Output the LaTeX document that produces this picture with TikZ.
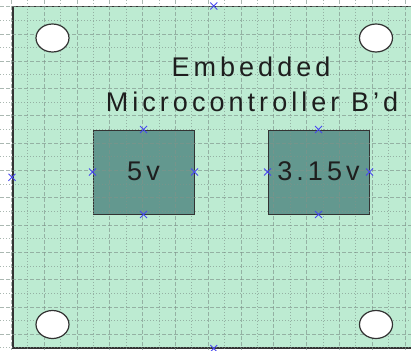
\documentclass[tikz,border=0pt]{standalone}
\usepackage{fontspec}
\setmainfont{Liberation Sans}[LetterSpace=15]
\usetikzlibrary{positioning,shapes.geometric,shapes.misc}
\definecolor{boardmint}{HTML}{BDEBD2}
\definecolor{chipteal}{HTML}{63988F}
\definecolor{edge}{HTML}{333333}
\definecolor{ink}{HTML}{1E1E1E}
\definecolor{gridgray}{HTML}{7F938A}
\definecolor{handleblue}{HTML}{4848F0}

\begin{document}
\begin{tikzpicture}[x=1pt,y=-1pt,
    board/.style={anchor=north west,draw=edge,fill=boardmint,line width=1.5pt,
      minimum width=402pt,minimum height=341pt,inner sep=0pt},
    chip/.style={draw=edge,fill=chipteal,line width=1pt,
      minimum width=101pt,minimum height=84pt,inner sep=0pt},
    hole/.style={ellipse,draw=edge,fill=white,line width=1.2pt,
      minimum width=33pt,minimum height=28pt,inner sep=0pt},
    handle/.style={cross out,draw=handleblue,line width=1pt,
      minimum size=6pt,inner sep=0pt},
    label/.style={text=ink,font=\fontsize{27}{30}\selectfont,inner sep=0pt}]
  \clip (0,0) rectangle (411,350);
  \fill[white] (0,0) rectangle (411,350);
  \node[board] (pcb) at (12,6) {};
  % regulator blocks
  \node[chip] (reg5) at (143.5,172) {};
  \node[chip] (reg315) at (318.5,172) {};
  % grid over everything but the holes
  \foreach \k in {0,...,24}{
    \pgfmathsetmacro{\gx}{11.4+16.4*\k}
    \ifodd\k
      \draw[gridgray,opacity=0.65,line width=0.75pt,dash pattern=on 1pt off 2pt] (\gx,0) -- (\gx,350);
    \else
      \draw[gridgray,opacity=0.65,line width=0.75pt,dash pattern=on 4pt off 2pt] (\gx,0) -- (\gx,350);
    \fi
  }
  \foreach \k in {0,...,25}{
    \pgfmathsetmacro{\gy}{6.6+13.65*\k}
    \ifodd\k
      \draw[gridgray,opacity=0.65,line width=0.75pt,dash pattern=on 1pt off 2pt] (0,\gy) -- (411,\gy);
    \else
      \draw[gridgray,opacity=0.65,line width=0.75pt,dash pattern=on 4pt off 2pt] (0,\gy) -- (411,\gy);
    \fi
  }
  % mounting holes
  \node[hole] (holenw) at (52.5,38) {};
  \node[hole] (holene) at (376,38) {};
  \node[hole] (holesw) at (52.5,324.5) {};
  \node[hole] (holese) at (376,324.5) {};
  % texts
  \node[label,anchor=base] (title1) at (251,77) {Embedded};
  \node[label,anchor=base] (title2) at (252,111) {Microcontroller B’d};
  \node[label,anchor=base] at ([yshift=-8.5pt]reg5.center) {5v};
  \node[label,anchor=base] at ([yshift=-8.5pt]reg315.center) {3.15v};
  % selection handles
  \foreach \n in {pcb,reg5,reg315}{
    \node[handle] at (\n.north) {};
    \node[handle] at (\n.south) {};
    \node[handle] at (\n.west) {};
    \node[handle] at (\n.east) {};
  }
\end{tikzpicture}
\end{document}
